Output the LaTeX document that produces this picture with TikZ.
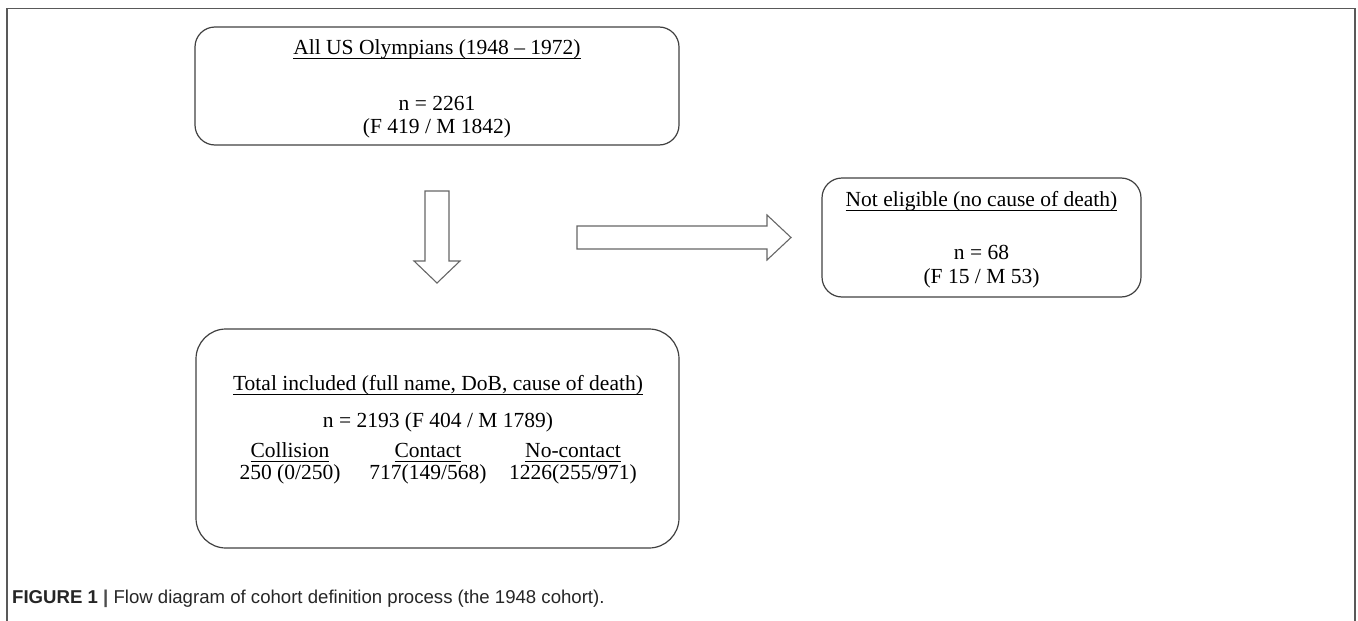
\documentclass[tikz,border=0pt]{standalone}
\usepackage{fontspec}
\setmainfont{Liberation Serif}
\newfontfamily\capfont{Liberation Sans}
\newcommand\ulx[1]{\leavevmode\setbox0\hbox{#1}\rlap{\rule[-5pt]{\wd0}{1.1pt}}\box0}
\begin{document}
\begin{tikzpicture}[x=1pt,y=-1pt,
  box/.style={draw=black!75, line width=1.2pt, rounded corners=20pt},
  txt/.style={anchor=base, inner sep=0pt, font=\fontsize{21.5}{24.5}\selectfont, text=black},
  blockarrow/.style={draw=black!60, line width=1.1pt, fill=white},
  frameline/.style={draw=black!65, line width=1.8pt}]
\useasboundingbox (0,0) rectangle (1358,621);
% outer frame (open at the bottom)
\draw[frameline] (7,621) -- (7,8.5) -- (1355,8.5) -- (1355,621);
% boxes
\node[box, minimum width=484pt, minimum height=118pt] (top) at (437,86) {};
\node[box, minimum width=319pt, minimum height=119pt] (right) at (981.5,237.5) {};
\node[box, rounded corners=30pt, minimum width=483pt, minimum height=219pt] (bottom) at (437.5,438.5) {};
% top box text
\node[txt] (t1) at (437,54) {\ulx{All US Olympians (1948 -- 1972)}};
\node[txt] (t2) at (437,110) {n = 2261};
\node[txt] (t3) at (437,133) {(F 419 / M 1842)};
% right box text
\node[txt] (r1) at (981.5,206) {\ulx{Not eligible\ (no cause of death)}};
\node[txt] (r2) at (981.5,259) {n = 68};
\node[txt] (r3) at (981.5,283) {(F 15 / M 53)};
% bottom box text
\node[txt] (b1) at (438,390) {\ulx{Total included (full name, DoB, cause of death)}};
\node[txt] (b2) at (438,427) {n = 2193 (F 404 / M 1789)};
\node[txt] (c1) at (290,457) {\ulx{Collision}};
\node[txt] (c2) at (428,457) {\ulx{Contact}};
\node[txt] (c3) at (573,457) {\ulx{No-contact}};
\node[txt] (d1) at (290,479) {250 (0/250)};
\node[txt] (d2) at (428,479) {717(149/568)};
\node[txt] (d3) at (573,479) {1226(255/971)};
% block arrows
\draw[blockarrow] (425,191) -- (449,191) -- (449,261) -- (460,261) -- (437,283)
  -- (414,261) -- (425,261) -- cycle;
\draw[blockarrow] (577,226) -- (767,226) -- (767,215) -- (791,237.5) -- (767,260)
  -- (767,249) -- (577,249) -- cycle;
% caption
\node[anchor=base west, inner sep=0pt, font=\capfont\fontsize{18.6}{22}\selectfont, text=black!85] (cap) at (12,603)
  {\textbf{FIGURE 1} {\color{black!70}\textbf{|}} Flow diagram of cohort definition process (the 1948 cohort).};
\end{tikzpicture}
\end{document}
